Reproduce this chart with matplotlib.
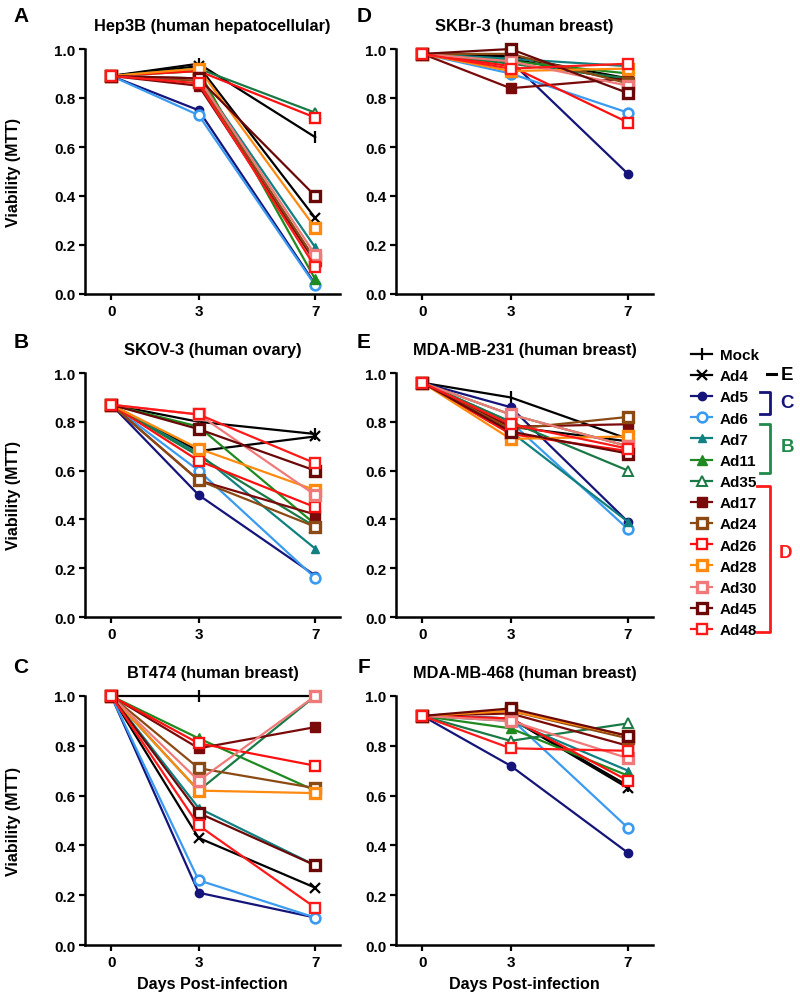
import matplotlib
matplotlib.use("Agg")
import matplotlib.pyplot as plt
from matplotlib.lines import Line2D

plt.rcParams['font.family'] = ['Liberation Sans', 'DejaVu Sans']
plt.rcParams['font.weight'] = 'bold'

days = [0, 3, 7]
day_labels = ['0', '3', '7']
viruses = ['Mock', 'Ad4', 'Ad5', 'Ad6', 'Ad7', 'Ad11', 'Ad35',
           'Ad17', 'Ad24', 'Ad26', 'Ad28', 'Ad30', 'Ad45', 'Ad48']

# Panel A: Hep3B
hep3b_d0 = 0.89
hep3b_d3 = [0.94, 0.93, 0.75, 0.73, 0.88, 0.91, 0.92, 0.85, 0.87, 0.91, 0.92, 0.88, 0.88, 0.86]
hep3b_d7 = [0.64, 0.31, 0.04, 0.035, 0.19, 0.06, 0.74, 0.13, 0.14, 0.72, 0.27, 0.16, 0.40, 0.11]
# Panel B: SKOV-3
skov3_d0 = 0.87
skov3_d3 = [0.80, 0.68, 0.50, 0.60, 0.67, 0.78, 0.66, 0.56, 0.56, 0.64, 0.69, 0.83, 0.77, 0.83]
skov3_d7 = [0.75, 0.74, 0.17, 0.16, 0.28, 0.38, 0.37, 0.42, 0.37, 0.45, 0.52, 0.50, 0.60, 0.63]
# Panel C: BT474
bt474_d0 = 1.0
bt474_d3 = [1.00, 0.43, 0.21, 0.26, 0.55, 0.83, 0.62, 0.79, 0.71, 0.81, 0.62, 0.66, 0.53, 0.48]
bt474_d7 = [1.00, 0.23, 0.11, 0.11, 0.32, 0.62, 1.00, 0.875, 0.63, 0.72, 0.61, 1.00, 0.32, 0.15]
# Panel D: SKBr-3
skbr3_d0 = 0.98
skbr3_d3 = [0.97, 0.96, 0.95, 0.90, 0.96, 0.95, 0.94, 0.84, 0.98, 0.93, 0.91, 0.95, 1.00, 0.92]
skbr3_d7 = [0.88, 0.87, 0.49, 0.74, 0.93, 0.90, 0.88, 0.88, 0.86, 0.70, 0.92, 0.85, 0.82, 0.94]
# Panel E: MDA-MB-231
mb231_d0 = 0.96
mb231_d3 = [0.90, 0.78, 0.86, 0.80, 0.76, 0.83, 0.80, 0.78, 0.77, 0.75, 0.73, 0.83, 0.76, 0.79]
mb231_d7 = [0.73, 0.72, 0.39, 0.36, 0.39, 0.70, 0.60, 0.79, 0.82, 0.68, 0.74, 0.70, 0.67, 0.69]
# Panel F: MDA-MB-468
mb468_d0 = 0.92
mb468_d3 = [0.91, 0.91, 0.72, 0.91, 0.90, 0.87, 0.82, 0.93, 0.94, 0.91, 0.94, 0.90, 0.95, 0.79]
mb468_d7 = [0.64, 0.63, 0.37, 0.47, 0.70, 0.68, 0.89, 0.80, 0.83, 0.66, 0.84, 0.75, 0.84, 0.78]

panels = [
    ('A', 'Hep3B (human hepatocellular)', hep3b_d0, hep3b_d3, hep3b_d7),
    ('B', 'SKOV-3 (human ovary)', skov3_d0, skov3_d3, skov3_d7),
    ('C', 'BT474 (human breast)', bt474_d0, bt474_d3, bt474_d7),
    ('D', 'SKBr-3 (human breast)', skbr3_d0, skbr3_d3, skbr3_d7),
    ('E', 'MDA-MB-231 (human breast)', mb231_d0, mb231_d3, mb231_d7),
    ('F', 'MDA-MB-468 (human breast)', mb468_d0, mb468_d3, mb468_d7),
]

colors = ['#000000', '#000000', '#14147a', '#3a9bf0', '#108080', '#1f8a1f', '#1a7a45',
          '#7a0a0a', '#8b4a14', '#ff1010', '#ff8a10', '#f07a7a', '#6a0808', '#ff1a1a']
markers = ['|', 'x', 'o', 'o', '^', '^', '^', 's', 's', 's', 's', 's', 's', 's']
mfcs = ['k', 'k', None, 'white', None, None, 'white', None, 'white', 'white', 'white', 'white', 'white', 'white']
msizes = [8, 6.5, 6, 7, 6, 6.5, 7, 7, 7, 7, 7, 7, 7, 7]
mews = [1.6, 1.6, 1, 1.9, 1, 1, 1.4, 1, 2.4, 1.7, 2.4, 2.4, 2.4, 1.7]

W, H = 800, 1004
fig = plt.figure(figsize=(W / 100, H / 100), dpi=100)

def frac_rect(l, r, t, b):
    return [l / W, 1 - b / H, (r - l) / W, (b - t) / H]

rects = {
    'A': frac_rect(85, 340, 50, 295),
    'B': frac_rect(85, 340, 374, 618),
    'C': frac_rect(85, 340, 697, 946),
    'D': frac_rect(396, 653, 50, 295),
    'E': frac_rect(396, 653, 374, 618),
    'F': frac_rect(396, 653, 697, 946),
}
letter_pos = {'A': (21, 16), 'B': (21, 343), 'C': (21, 668),
              'D': (364, 16), 'E': (364, 343), 'F': (364, 668)}

handles = None
for letter, title, d0, d3, d7 in panels:
    ax = fig.add_axes(rects[letter])
    hs = []
    for i, name in enumerate(viruses):
        yv = [d0, d3[i], d7[i]]
        mfc = colors[i] if mfcs[i] is None else mfcs[i]
        if markers[i] in ('|', 'x'):
            mfc = colors[i]
        h, = ax.plot(days, yv, color=colors[i], lw=1.6, marker=markers[i],
                     ms=msizes[i], mfc=mfc, mec=colors[i], mew=mews[i],
                     clip_on=False, label=name, zorder=3 + i * 0.1)
        hs.append(h)
    handles = hs
    ax.set_xlim(-0.9, 7.85)
    ax.set_ylim(0, 1.0)
    ax.set_xticks(days)
    ax.set_xticklabels(day_labels)
    ax.set_yticks([0, 0.2, 0.4, 0.6, 0.8, 1.0])
    ax.set_yticklabels(['0.0', '0.2', '0.4', '0.6', '0.8', '1.0'])
    for s in ('top', 'right'):
        ax.spines[s].set_visible(False)
    for s in ('left', 'bottom'):
        ax.spines[s].set_linewidth(1.8)
    ax.tick_params(axis='both', width=1.6, length=4, labelsize=11, pad=3)
    for lab in ax.get_xticklabels() + ax.get_yticklabels():
        lab.set_fontweight('bold')
    ax.set_title(title, fontsize=11.8, fontweight='bold', pad=14)
    if letter in ('A', 'B', 'C'):
        ax.set_ylabel('Viability (MTT)', fontsize=11.5, fontweight='bold')
        ax.yaxis.set_label_coords(-0.25, 0.5)
    if letter in ('C', 'F'):
        ax.set_xlabel('Days Post-infection', fontsize=11.6, fontweight='bold', labelpad=5)
    lx, ly = letter_pos[letter]
    fig.text(lx / W, 1 - ly / H, letter, fontsize=15, fontweight='bold', ha='center', va='center')

fs = 11
leg = fig.legend(handles=handles, labels=viruses, loc='upper left',
                 bbox_to_anchor=(691 / W, 1 - 349 / H), frameon=False,
                 fontsize=fs, handlelength=1.4, handletextpad=0.5,
                 labelspacing=0.47, borderpad=0, borderaxespad=0,
                 prop={'weight': 'bold', 'size': fs})

def fline(xs, ys, color, lw=2.0):
    fig.add_artist(Line2D([x / W for x in xs], [1 - y / H for y in ys],
                          color=color, lw=lw, transform=fig.transFigure))

def ftext(x, y, s, color):
    fig.text(x / W, 1 - y / H, s, color=color, fontsize=13.5, fontweight='bold',
             ha='center', va='center')

# E group
fline([767, 776], [375, 375], 'black', lw=2.2)
ftext(787, 375, 'E', 'black')
# C group
navy = '#14147a'
fline([760, 770, 770, 760], [393, 393, 415, 415], navy)
ftext(787, 404, 'C', navy)
# B group
green = '#1f8a4a'
fline([760, 770, 770, 760], [425, 425, 474, 474], green)
ftext(787, 447, 'B', green)
# D group
red = '#ff1a1a'
fline([757, 770, 770, 757], [487, 487, 633, 633], red)
ftext(785, 554, 'D', red)

fig.savefig('out.png', dpi=100)
